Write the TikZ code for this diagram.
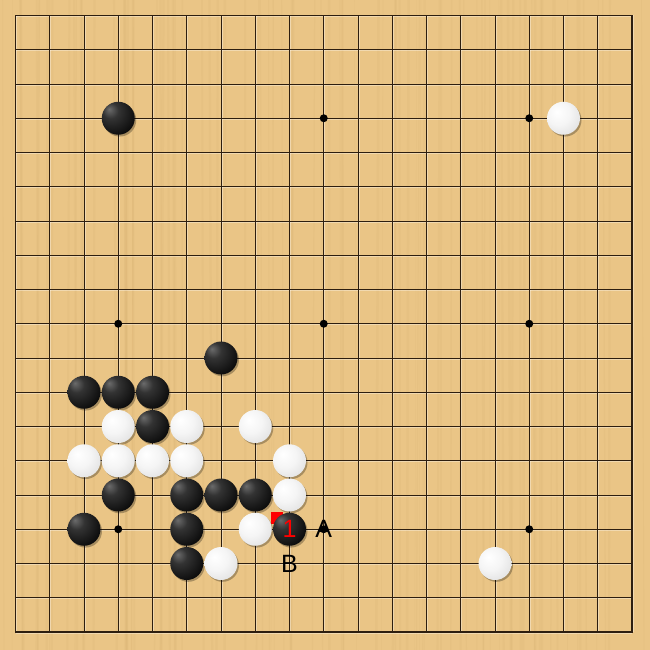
\documentclass[tikz,border=0pt]{standalone}
\usepackage{fontspec}
\setmainfont{Liberation Sans}
\usetikzlibrary{calc}
\definecolor{wood}{RGB}{234,197,134}
\definecolor{woodgrain}{RGB}{200,160,95}
\definecolor{gridc}{RGB}{45,30,15}
\pgfdeclareradialshading{blackstone}{\pgfpoint{-14bp}{14bp}}{color(0bp)=(black!58); color(12bp)=(black!80); color(35bp)=(black!96); color(70bp)=(black)}
\pgfdeclareradialshading{whitestone}{\pgfpoint{-10bp}{10bp}}{color(0bp)=(white); color(18bp)=(white!96!black); color(38bp)=(white!87!black); color(52bp)=(white!76!black); color(70bp)=(white!68!black)}
\tikzset{
  stone/.style={circle, minimum size=33pt, inner sep=0pt, outer sep=0pt},
  bstone/.style={stone, shading=blackstone},
  wstone/.style={stone, shading=whitestone},
  shadowc/.style={circle, minimum size=33pt, inner sep=0pt, fill=black, opacity=0.28},
  gridline/.style={gridc, line width=0.9pt},
  hoshi/.style={circle, fill=black, minimum size=8pt, inner sep=0pt},
  lbl/.style={font=\fontsize{25}{25}\selectfont, text=black, inner sep=0pt},
  movenum/.style={font=\fontsize{25}{25}\selectfont, text=red, inner sep=0pt}
}
\begin{document}
\begin{tikzpicture}[x=1pt, y=-1pt]
  \useasboundingbox (0,0) rectangle (650,650);
  \fill[wood] (0,0) rectangle (650,650);
  % wood grain
  \pgfmathsetseed{7}
  \foreach \k in {1,...,90} {
    \pgfmathsetmacro\xx{rnd*650}
    \pgfmathsetmacro\ww{0.4+rnd*2.2}
    \draw[woodgrain, opacity=0.10, line width=\ww pt] (\xx,0) -- (\xx+rnd*6-3,650);
  }
  \begin{scope}[shift={(15.5,15.5)}, x=34.25pt, y=-34.25pt]
    % grid
    \foreach \k in {0,...,18} {
      \draw[white, opacity=0.35, line width=0.8pt] ([xshift=1pt]\k,0) -- ([xshift=1pt]\k,18);
      \draw[white, opacity=0.35, line width=0.8pt] ([yshift=-1pt]0,\k) -- ([yshift=-1pt]18,\k);
    }
    \foreach \k in {1,...,17} {
      \draw[gridline] (\k,0) -- (\k,18);
      \draw[gridline] (0,\k) -- (18,\k);
    }
    \draw[gridc, line width=1.8pt] (0,0) rectangle (18,18);
    % star points
    \foreach \i/\j in {3/3,9/3,15/3,3/9,9/9,15/9,3/15,9/15,15/15}
      \node[hoshi] (h\i-\j) at (\i,\j) {};
    % last move marker
    \coordinate (mv) at (8,15);
    \fill[red] ($(mv)+(-18.5pt,17.5pt)$) rectangle ($(mv)+(-6.5pt,5.5pt)$);
    % shadows
    \foreach \i/\j in {3/3,6/10,2/11,3/11,4/11,4/12,3/14,5/14,6/14,7/14,2/15,5/15,8/15,5/16,
                       16/3,3/12,5/12,7/12,2/13,3/13,4/13,5/13,8/13,8/14,7/15,6/16,14/16}
      \node[shadowc] (sh\i-\j) at ([xshift=1.5pt,yshift=-1.8pt]\i,\j) {};
    % black stones
    \foreach \i/\j in {3/3,6/10,2/11,3/11,4/11,4/12,3/14,5/14,6/14,7/14,2/15,5/15,8/15,5/16}
      \node[bstone] (b\i-\j) at (\i,\j) {};
    % white stones
    \foreach \i/\j in {16/3,3/12,5/12,7/12,2/13,3/13,4/13,5/13,8/13,8/14,7/15,6/16,14/16}
      \node[wstone] (w\i-\j) at (\i,\j) {};
    % move number and labels
    \node[movenum] (n1) at (b8-15) {1};
    \node[lbl] (lA) at (9,15) {A};
    \node[lbl] (lB) at (8,16) {B};
  \end{scope}
\end{tikzpicture}
\end{document}
